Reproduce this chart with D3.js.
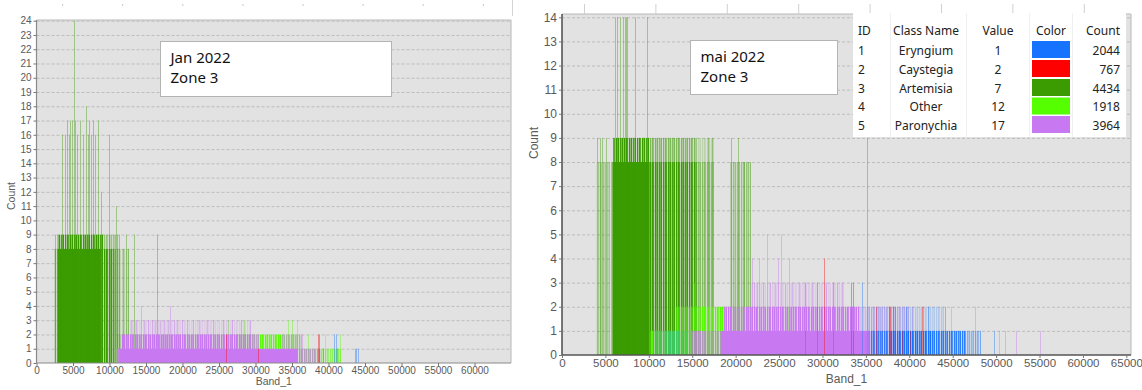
<!DOCTYPE html>
<html>
<head>
<meta charset="utf-8">
<script src="https://cdn.jsdelivr.net/npm/d3@7/dist/d3.min.js"></script>
<style>
  body { margin: 0; background: #fff; }
  svg { display: block; }
</style>
</head>
<body>
<svg id="chart" width="1142" height="390"></svg>
<script>
// ---- Class table ----
const classIds    = [1, 2, 3, 4, 5];
const classNames  = ["Eryngium", "Caystegia", "Artemisia", "Other", "Paronychia"];
const classValues = [1, 2, 7, 12, 17];
const classColors = ["#1673ff", "#ff0000", "#3a9c00", "#55ff00", "#c878f0"];
const classCounts = [2044, 767, 4434, 1918, 3964];

// ---- Tick labels ----
const janCountTicks = d3.range(0, 25);
const maiCountTicks = d3.range(0, 15);
const janBandTicks  = [0, 5000, 10000, 15000, 20000, 25000, 30000, 35000, 40000, 45000, 50000, 55000, 60000];
const maiBandTicks  = [0, 5000, 10000, 15000, 20000, 25000, 30000, 35000, 40000, 45000, 50000, 55000, 60000, 65000];

// ---- Jan 2022 histogram ----
// runs: [from Band_1, to Band_1, count, share of bins reaching that count]
// spikes: [Band_1, count] for single bins standing out
const janArtemisiaRuns = [
  [2500, 2900, 8, 0.5],
  [2900, 8800, 8, 1],
  [8800, 10600, 8, 0.7],
  [10600, 11400, 8, 0.35],
  [11400, 12700, 8, 0.15],
  [2900, 9200, 9, 0.8],
  [9200, 11200, 9, 0.3],
  [11000, 30000, 2, 0.18]
];
const janArtemisiaSpikes = [
  [2600, 9], [3500, 16], [3850, 16], [4150, 17], [4450, 16], [4650, 17], [4900, 17],
  [5100, 24], [5250, 17], [5600, 16], [5950, 17], [6350, 16], [6800, 18], [7000, 16],
  [7200, 17], [7450, 16], [7700, 17], [8000, 16], [8400, 17], [8900, 12], [9900, 16],
  [10950, 11], [11300, 9], [11900, 8], [12200, 9], [12600, 8], [13300, 9], [16500, 9]
];
const janOtherRuns = [
  [25800, 30500, 2, 0.3],
  [30500, 33600, 2, 0.9],
  [33600, 36200, 2, 0.45],
  [36000, 41700, 1, 0.4]
];
const janOtherSpikes = [
  [26200, 3], [28400, 3], [34500, 3], [35000, 3], [35700, 3], [37200, 2], [39500, 2], [41600, 2]
];
const janParonychiaRuns = [
  [10800, 11200, 1, 0.6],
  [11200, 35800, 1, 1],
  [35800, 39000, 1, 0.45],
  [11600, 29500, 2, 0.9],
  [29500, 30500, 2, 0.45],
  [33600, 36500, 2, 0.35],
  [12800, 29500, 3, 0.15]
];
const janParonychiaSpikes = [
  [12900, 3], [13600, 3], [14300, 4], [14700, 3], [15300, 3], [15800, 3], [16300, 3],
  [16900, 3], [17500, 3], [18000, 3], [18300, 4], [18800, 3], [19300, 3], [19900, 3],
  [20600, 3], [21400, 3], [22300, 3], [23300, 3], [24200, 3], [25500, 3], [26800, 3],
  [28000, 3], [29200, 3]
];
const janEryngiumRuns = [];
const janEryngiumSpikes = [
  [39300, 1], [40800, 2], [41000, 2], [41200, 1], [43600, 1], [43800, 1], [44100, 1]
];
const janCaystegiaRuns = [];
const janCaystegiaSpikes = [[26000, 2], [30300, 1], [38500, 2], [38700, 2]];

// ---- mai 2022 histogram ----
const maiArtemisiaRuns = [
  [4000, 5800, 8, 0.25],
  [5800, 10100, 8, 1],
  [10100, 15500, 8, 0.65],
  [15500, 17500, 8, 0.28],
  [19400, 21700, 8, 0.3],
  [5900, 10100, 9, 0.8],
  [10100, 15500, 9, 0.4],
  [15500, 17500, 9, 0.15]
];
const maiArtemisiaSpikes = [
  [4050, 9], [4400, 9], [4600, 9], [5100, 9], [6100, 14], [6350, 14], [6700, 14],
  [7050, 14], [7250, 14], [7380, 14], [7500, 14], [8400, 14], [9800, 14], [16800, 9],
  [17300, 9], [19500, 9], [20300, 9], [21000, 8], [21600, 8], [35100, 9]
];
const maiOtherRuns = [
  [10200, 14000, 1, 0.6],
  [14000, 14900, 1, 0.95],
  [13000, 16000, 2, 0.35],
  [16000, 18700, 2, 0.8],
  [18700, 22500, 2, 0.3]
];
const maiOtherSpikes = [[15200, 3], [22100, 2], [26000, 2], [36500, 2]];
const maiParonychiaRuns = [
  [14800, 18300, 1, 0.5],
  [18300, 35500, 1, 1],
  [35500, 39000, 1, 0.4],
  [18600, 34300, 2, 0.9],
  [34300, 40000, 2, 0.25],
  [21700, 32500, 3, 0.15]
];
const maiParonychiaSpikes = [
  [20200, 5], [23600, 5], [25200, 5], [21900, 4], [22700, 4], [24900, 4], [26100, 4],
  [22100, 3], [22500, 3], [23200, 3], [24000, 3], [24500, 3], [25700, 3], [26500, 3],
  [27300, 3], [28800, 3], [30400, 3], [31700, 3], [32300, 3], [40300, 2], [41600, 2],
  [44750, 2], [47540, 2], [50340, 1], [50990, 1], [52280, 1], [55070, 1]
];
const maiEryngiumRuns = [
  [10500, 14800, 1, 0.25],
  [35500, 37700, 1, 0.5],
  [37700, 42800, 1, 0.9],
  [42800, 46500, 1, 0.6],
  [46500, 48200, 1, 0.3],
  [35000, 44000, 2, 0.15]
];
const maiEryngiumSpikes = [
  [27960, 3], [29370, 3], [31180, 3], [34550, 3], [38400, 2], [39600, 2], [42160, 2],
  [44100, 2], [48150, 1], [49700, 1]
];
const maiCaystegiaRuns = [];
const maiCaystegiaSpikes = [
  [30200, 4], [33250, 3], [33560, 3], [36200, 2], [37650, 2], [37800, 2], [38080, 2],
  [41500, 2], [39200, 1], [40100, 1]
];

// ---- Drawing ----
const svg = d3.select("#chart");
const FONT = '"Liberation Sans", Arial, sans-serif';
const NOTE_FONT = '"Noto Sans", "Open Sans", sans-serif';

// Thin-bar texture for ranges where only part of the bins reach the count:
// a tile of 1px columns of uneven strength, like neighbouring histogram bins.
const binColumns = [1, 0.35, 1, 0.8, 0.15, 1, 0.55, 1, 0.25, 0.9, 0.6, 1, 0.1];
const binColumnsMean = d3.mean(binColumns);
const defs = svg.append("defs");
classColors.forEach((c, i) => {
  const pat = defs.append("pattern")
    .attr("id", "bins-" + i)
    .attr("patternUnits", "userSpaceOnUse")
    .attr("width", binColumns.length).attr("height", 10);
  binColumns.forEach((o, k) => {
    pat.append("rect").attr("x", k).attr("y", 0).attr("width", 1).attr("height", 10)
      .attr("fill", c).attr("fill-opacity", o);
  });
});

function drawPanel(p) {
  const g = svg.append("g");
  const x = d3.scaleLinear().domain(p.xDomain).range([p.left, p.right]);
  const y = d3.scaleLinear().domain([0, p.yMax]).range([p.bottom, p.yMaxPos]);

  // plot background
  g.append("rect")
    .attr("x", p.left).attr("y", p.top)
    .attr("width", p.plotRight - p.left).attr("height", p.bottom - p.top)
    .attr("fill", "#e2e2e2");

  // dashed horizontal grid
  g.append("g")
    .attr("transform", `translate(${p.left},0)`)
    .call(d3.axisLeft(y).tickValues(p.yTicks.filter(v => v > 0)).tickSize(-(p.plotRight - p.left)).tickFormat(""))
    .call(a => a.select(".domain").remove())
    .call(a => a.selectAll("line").attr("stroke", "#bdbdbd").attr("stroke-dasharray", "3,2"));

  // histogram bars, class by class
  const bars = g.append("g");
  p.layers.forEach(layer => {
    const color = classColors[layer.cls];
    bars.append("g").selectAll("rect")
      .data(layer.runs)
      .join("rect")
      .attr("x", d => x(d[0]))
      .attr("width", d => Math.max(1, x(d[1]) - x(d[0])))
      .attr("y", d => y(d[2]))
      .attr("height", d => y(0) - y(d[2]))
      .attr("fill", d => d[3] >= 1 ? color : `url(#bins-${layer.cls})`)
      .attr("fill-opacity", d => d[3] >= 1 ? 1 : Math.min(1, d[3] / binColumnsMean));
    bars.append("g").selectAll("line")
      .data(layer.spikes)
      .join("line")
      .attr("x1", d => Math.round(x(d[0])) + 0.5)
      .attr("x2", d => Math.round(x(d[0])) + 0.5)
      .attr("y1", y(0))
      .attr("y2", d => y(d[1]))
      .attr("stroke", color)
      .attr("stroke-width", 1)
      .attr("stroke-opacity", 0.4);
  });

  // frame: light top / right border
  g.append("path")
    .attr("d", `M${p.left},${p.top}H${p.plotRight}V${p.bottom}`)
    .attr("fill", "none").attr("stroke", "#b8b8b8").attr("stroke-width", 1);

  // y axis
  const ya = g.append("g")
    .attr("transform", `translate(${p.left},0)`)
    .call(d3.axisLeft(y).tickValues(p.yTicks).tickSize(3).tickPadding(2).tickFormat(d3.format("d")));
  ya.select(".domain").attr("d", `M0,${p.top}V${p.bottom}`).attr("stroke", p.axisColor).attr("stroke-width", p.axisWidth);
  ya.selectAll(".tick line").attr("stroke", "#777");
  ya.selectAll(".tick text").attr("fill", "#5a5a5a").style("font-size", p.yFont + "px").attr("font-family", FONT);

  // x axis
  const xa = g.append("g")
    .attr("transform", `translate(0,${p.bottom})`)
    .call(d3.axisBottom(x).tickValues(p.xTicks).tickSize(3).tickPadding(1).tickFormat(d3.format("d")));
  xa.select(".domain").attr("d", `M${p.left},0H${p.plotRight}`).attr("stroke", p.axisColor).attr("stroke-width", p.axisWidth);
  xa.selectAll(".tick line").attr("stroke", "#777");
  xa.selectAll(".tick text").attr("fill", "#5a5a5a").style("font-size", p.xFont + "px").attr("font-family", FONT);

  // axis titles
  g.append("text")
    .attr("transform", `translate(${p.countX},${p.countY}) rotate(-90)`)
    .attr("text-anchor", "middle")
    .attr("font-family", FONT).attr("font-size", p.titleFont).attr("fill", "#5a5a5a")
    .text("Count");
  g.append("text")
    .attr("x", (p.left + p.plotRight) / 2).attr("y", p.bandY)
    .attr("text-anchor", "middle")
    .attr("font-family", FONT).attr("font-size", p.titleFont).attr("fill", "#5a5a5a")
    .text("Band_1");

  // note box
  g.append("rect")
    .attr("x", p.note.x).attr("y", p.note.y).attr("width", p.note.w).attr("height", p.note.h)
    .attr("fill", "#fff").attr("stroke", "#b4b4b4");
  p.note.lines.forEach((t, i) => {
    g.append("text")
      .attr("x", p.note.x + 10).attr("y", p.note.y + 21 + i * 20.5)
      .attr("font-family", NOTE_FONT).attr("font-size", 15).attr("fill", "#111")
      .text(t);
  });
  return g;
}

drawPanel({
  left: 36.5, right: 511, plotRight: 511, top: 20, bottom: 363, yMax: 24, yMaxPos: 20.7,
  xDomain: [0, 65000], yTicks: janCountTicks, xTicks: janBandTicks,
  axisColor: "#8a8a8a", axisWidth: 1.2, yFont: 10, xFont: 10, titleFont: 10.5,
  countX: 15, countY: 196, bandY: 385,
  note: { x: 160.5, y: 41.5, w: 231, h: 55, lines: ["Jan 2022", "Zone 3"] },
  layers: [
    { cls: 2, runs: janArtemisiaRuns, spikes: janArtemisiaSpikes },
    { cls: 3, runs: janOtherRuns, spikes: janOtherSpikes },
    { cls: 4, runs: janParonychiaRuns, spikes: janParonychiaSpikes },
    { cls: 0, runs: janEryngiumRuns, spikes: janEryngiumSpikes },
    { cls: 1, runs: janCaystegiaRuns, spikes: janCaystegiaSpikes }
  ]
});

drawPanel({
  left: 562, right: 1131, plotRight: 1131, top: 14, bottom: 355, yMax: 14, yMaxPos: 17.3,
  xDomain: [0, 65535], yTicks: maiCountTicks, xTicks: maiBandTicks,
  axisColor: "#555", axisWidth: 1.6, yFont: 12, xFont: 11.5, titleFont: 12,
  countX: 538, countY: 143, bandY: 383,
  note: { x: 690.5, y: 40.5, w: 147, h: 54, lines: ["mai 2022", "Zone 3"] },
  layers: [
    { cls: 2, runs: maiArtemisiaRuns, spikes: maiArtemisiaSpikes },
    { cls: 3, runs: maiOtherRuns, spikes: maiOtherSpikes },
    { cls: 4, runs: maiParonychiaRuns, spikes: maiParonychiaSpikes },
    { cls: 0, runs: maiEryngiumRuns, spikes: maiEryngiumSpikes },
    { cls: 1, runs: maiCaystegiaRuns, spikes: maiCaystegiaSpikes }
  ]
});

// ---- thin header strip above the panels ----
const janHeaderMarks = d3.range(1, 9);
svg.append("g").selectAll("rect")
  .data(janHeaderMarks)
  .join("rect")
  .attr("x", i => 2 + i * 60.1).attr("y", 4).attr("width", 1).attr("height", 2)
  .attr("fill", "#c8c8c8");
svg.append("line").attr("x1", 512.5).attr("x2", 512.5).attr("y1", 0).attr("y2", 16)
  .attr("stroke", "#d4d4d4");
const maiHeaderMarks = d3.range(0, 8);
svg.append("g").selectAll("line")
  .data(maiHeaderMarks)
  .join("line")
  .attr("x1", i => 584.5 + i * 71.4).attr("x2", i => 584.5 + i * 71.4)
  .attr("y1", 4).attr("y2", 14)
  .attr("stroke", "#d0d0d0");

// ---- class table (legend) ----
const table = svg.append("g");
const tX = 853, tY = 13, tW = 273, tH = 124;
table.append("rect").attr("x", tX).attr("y", tY).attr("width", tW).attr("height", tH).attr("fill", "#fff");
[890, 966, 1029, 1072].forEach(cx =>
  table.append("line").attr("x1", cx + 0.5).attr("x2", cx + 0.5).attr("y1", tY).attr("y2", tY + tH)
    .attr("stroke", "#f0f0f0"));
const rowY = [30, 50, 69, 88, 106.5, 125];
const cols = [
  { x: 858, anchor: "start", head: "ID", vals: classIds },
  { x: 926, anchor: "middle", head: "Class Name", vals: classNames },
  { x: 998, anchor: "middle", head: "Value", vals: classValues },
  { x: 1051, anchor: "middle", head: "Color", vals: null },
  { x: 1120, anchor: "end", head: "Count", vals: classCounts }
];
cols.forEach(c => {
  table.append("text").attr("x", c.x).attr("y", rowY[0] + 4.5)
    .attr("text-anchor", c.anchor).attr("font-family", NOTE_FONT).attr("font-size", 12).attr("fill", "#222")
    .text(c.head);
  if (c.vals) {
    table.append("g").selectAll("text").data(c.vals).join("text")
      .attr("x", c.x).attr("y", (d, i) => rowY[i + 1] + 4.5)
      .attr("text-anchor", c.anchor).attr("font-family", NOTE_FONT).attr("font-size", 12).attr("fill", "#222")
      .text(d => d);
  }
});
table.append("g").selectAll("rect").data(classColors).join("rect")
  .attr("x", 1032).attr("y", (d, i) => rowY[i + 1] - 9)
  .attr("width", 38).attr("height", 17)
  .attr("fill", d => d);
</script>
</body>
</html>
